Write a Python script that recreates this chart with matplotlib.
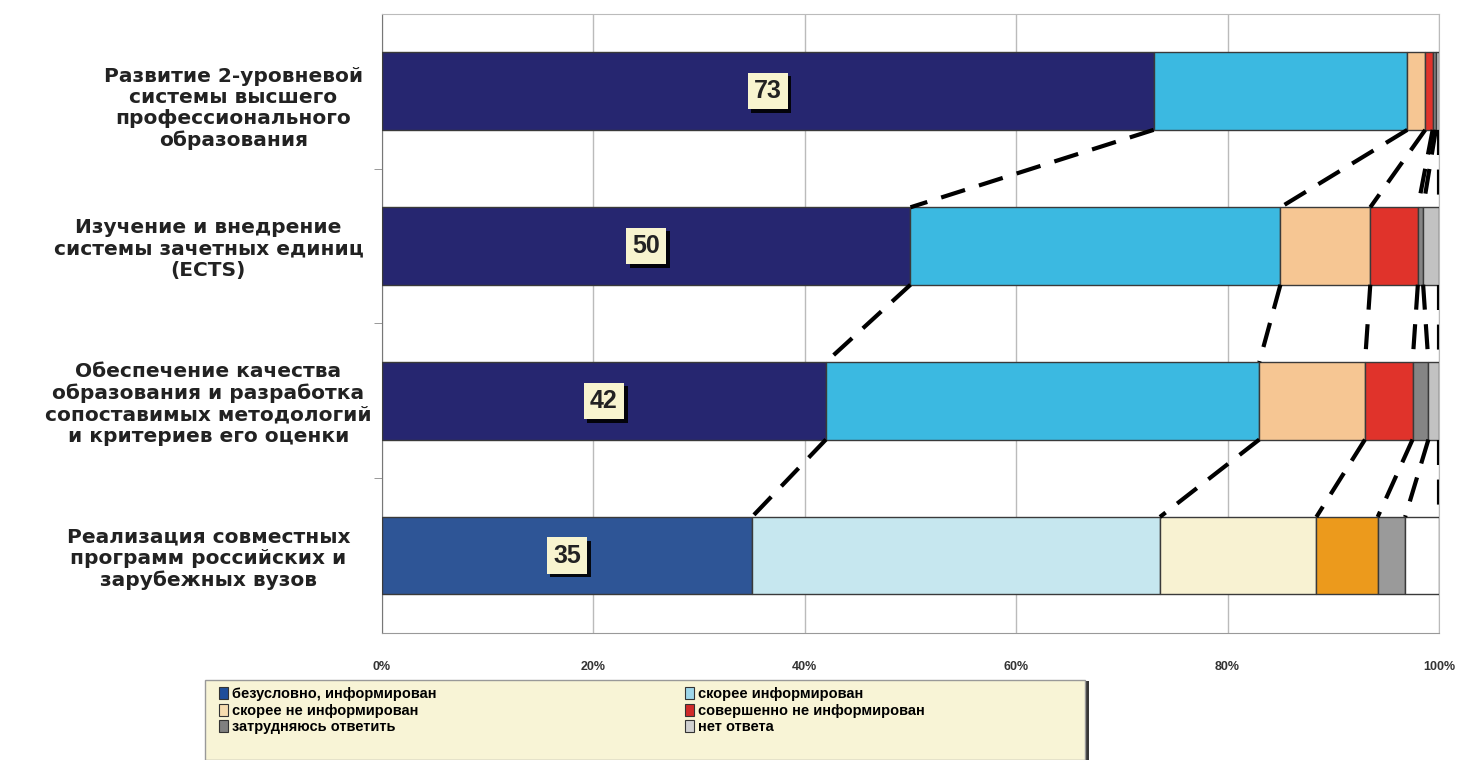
import numpy as np
import matplotlib.pyplot as plt
import matplotlib.transforms as mtransforms
import matplotlib.patheffects as pe
from matplotlib.patches import Patch, Rectangle

plt.rcParams['font.family'] = ['Liberation Sans', 'DejaVu Sans']

# Данные
categories = [
    'Развитие 2-уровневой\nсистемы высшего\nпрофессионального\nобразования',
    'Изучение и внедрение\nсистемы зачетных единиц\n(ECTS)',
    'Обеспечение качества\nобразования и разработка\nсопоставимых методологий\nи критериев его оценки',
    'Реализация совместных\nпрограмм российских и\nзарубежных вузов',
]
bar_labels = [73, 50, 42, 35]
# доли ответов, % (по порядку сегментов)
seg_1 = [73, 24, 1.7, 0.7, 0.3, 0.3]
seg_2 = [50, 35, 8.5, 4.5, 0.5, 1.5]
seg_3 = [42, 41, 10, 4.5, 1.5, 1.0]
seg_4 = [35, 38.6, 14.8, 5.8, 2.6, 3.2]
series = [seg_1, seg_2, seg_3, seg_4]

legend_labels = ['безусловно, информирован', 'скорее информирован',
                 'скорее не информирован', 'совершенно не информирован',
                 'затрудняюсь ответить', 'нет ответа']

colors_top = ['#262670', '#3bb9e1', '#f6c693', '#e0332b', '#858585', '#c2c2c2']
colors_last = ['#2e5596', '#c6e7ef', '#f8f2d2', '#ec9a1c', '#9a9a9a', '#ffffff']
legend_colors = ['#1f4e9a', '#9ed6ea', '#f6dcb0', '#d02a2a', '#808080', '#d0d0d0']

fig = plt.figure(figsize=(14.67, 7.6), dpi=100)
ax = fig.add_axes([0.2604, 0.167, 0.7205, 0.8149])

bar_h = 0.5
for i, vals in enumerate(series):
    cols = colors_last if i == 3 else colors_top
    left = 0
    for v, c in zip(vals, cols):
        ax.barh(i, v, left=left, height=bar_h, color=c, edgecolor='#3a3a3a', linewidth=1.0, zorder=3)
        left += v
    t = ax.text(vals[0] / 2, i, str(bar_labels[i]), ha='center', va='center', fontsize=18,
                fontweight='bold', color='#222222', zorder=5,
                bbox=dict(boxstyle='square,pad=0.25', facecolor='#f8f4cf', edgecolor='none'))
    t.get_bbox_patch().set_path_effects([pe.withSimplePatchShadow(offset=(2.5, -2.5), shadow_rgbFace='black', alpha=0.9)])

# соединительные пунктирные линии между барами
for i in range(len(series) - 1):
    c_up = np.cumsum(series[i])
    c_dn = np.cumsum(series[i + 1])
    for a, b in zip(c_up, c_dn):
        ax.plot([a, b], [i + bar_h / 2, i + 1 - bar_h / 2], color='black', lw=3,
                linestyle=(0, (6, 3.5)), zorder=4, solid_capstyle='butt')

ax.set_xlim(0, 100)
ax.set_ylim(3.5, -0.5)
ax.set_xticks(np.arange(0, 101, 20))
ax.set_xticklabels([f'{x}%' for x in range(0, 101, 20)], fontsize=9, fontweight='bold', color='#333333')
ax.tick_params(axis='x', length=0, pad=20)
ax.set_yticks(range(4))
ax.set_yticklabels(categories, fontsize=14.5, fontweight='bold', ha='center', linespacing=1.15,
                   family=['DejaVu Sans'], color='#222222')
ax.tick_params(axis='y', which='major', length=0, pad=125)
ax.set_yticks([0.5, 1.5, 2.5], minor=True)
ax.tick_params(axis='y', which='minor', length=6, color='#888888')
# первая подпись в оригинале немного ниже
lab0 = ax.get_yticklabels()[0]
lab0.set_transform(lab0.get_transform() + mtransforms.ScaledTranslation(0.25, -0.14, fig.dpi_scale_trans))

ax.grid(axis='x', color='#bbbbbb', lw=1, zorder=0)
for s in ['top', 'right']:
    ax.spines[s].set_color('#bbbbbb')
ax.spines['left'].set_color('#777777')
ax.spines['bottom'].set_color('#999999')

# рамка легенды
W, H = 1467, 760
frame = Rectangle((205 / W, 0.0), 880 / W, 80 / H, transform=fig.transFigure,
                  facecolor='#f8f4d6', edgecolor='#999999', lw=1, zorder=1)
frame.set_path_effects([pe.withSimplePatchShadow(offset=(3, -1), shadow_rgbFace='#222222', alpha=0.9)])
fig.patches.append(frame)

handles = [Patch(facecolor=c, edgecolor='#333333', linewidth=0.8) for c in legend_colors]
leg_kw = dict(loc='upper left', ncol=1,
              prop={'weight': 'bold', 'size': 10.5},
              handlelength=0.6, handleheight=0.9, handletextpad=0.25,
              labelspacing=0.15, borderpad=0, frameon=False)
fig.legend([handles[k] for k in (0, 2, 4)], [legend_labels[k] for k in (0, 2, 4)],
           bbox_to_anchor=(212 / W, 1 - 680 / H), **leg_kw)
fig.legend([handles[k] for k in (1, 3, 5)], [legend_labels[k] for k in (1, 3, 5)],
           bbox_to_anchor=(678 / W, 1 - 680 / H), **leg_kw)

fig.savefig('out.png', dpi=100)
